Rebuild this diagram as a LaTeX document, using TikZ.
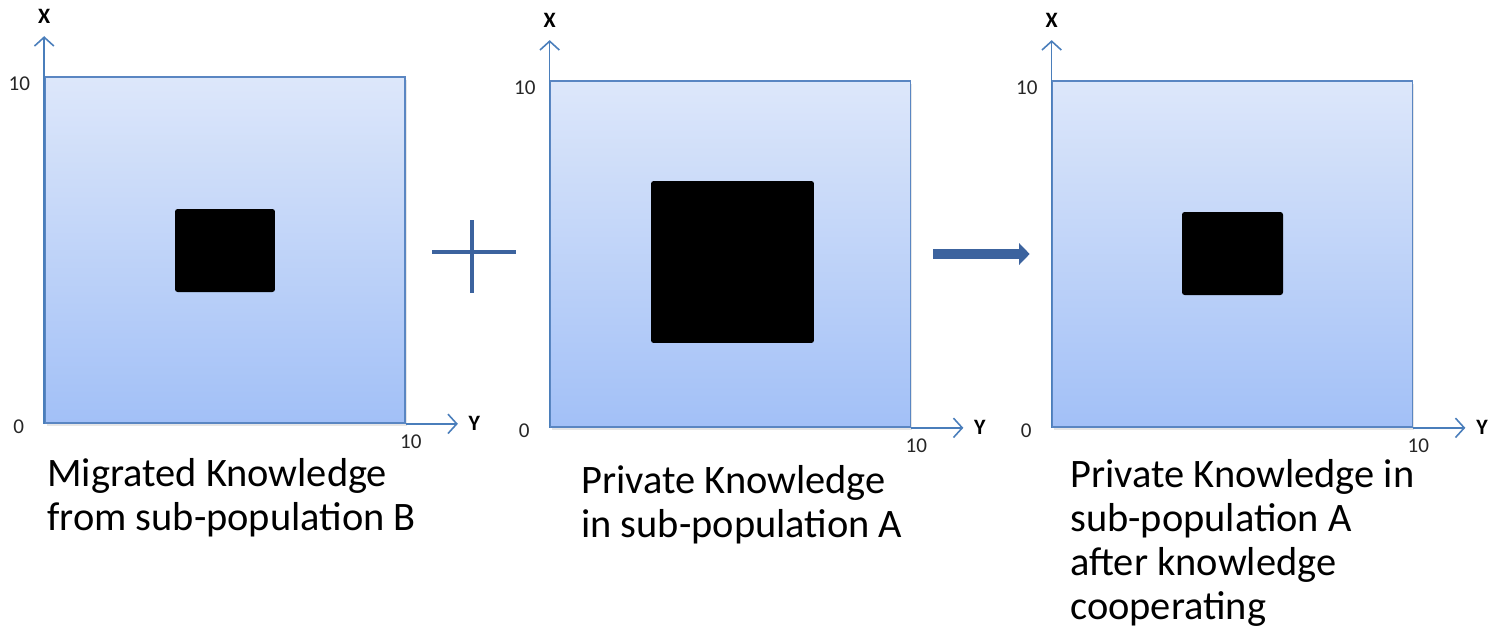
\documentclass[tikz,border=0pt]{standalone}
\usepackage{fontspec}
\setmainfont{Carlito}
\usetikzlibrary{arrows.meta,calc,positioning,shadows}
\definecolor{boxedge}{HTML}{5A86C2}
\definecolor{axiscol}{HTML}{4A7EBB}
\definecolor{boxtop}{HTML}{DDE7FA}
\definecolor{boxbot}{HTML}{A2C0F7}
\definecolor{opcol}{HTML}{3C639E}
\tikzset{
  panel/.style={draw=boxedge,line width=1pt,top color=boxtop,bottom color=boxbot,minimum width=7.2cm,minimum height=6.92cm,inner sep=0pt,drop shadow={opacity=0.2,shadow xshift=1pt,shadow yshift=-1.5pt}},
  region/.style={fill=black,rounded corners=1.5pt,inner sep=0pt},
  axis/.style={axiscol,line width=0.9pt,-{Straight Barb[length=5pt,width=11pt]}},
  axname/.style={font=\bfseries\fontsize{12.5}{14}\selectfont,inner sep=1pt},
  tick/.style={font=\fontsize{12}{14}\selectfont,text=black!85,inner sep=1pt},
  caption/.style={anchor=north west,align=left,inner sep=0pt,font=\fontsize{23}{25}\selectfont},
  op/.style={opcol,line width=2.8pt},
  flow/.style={opcol,line width=5.5pt,-{Triangle[length=6pt,width=12pt]}},
}
\begin{document}
\begin{tikzpicture}[x=0.02cm,y=-0.02cm]
  \useasboundingbox (0,0) rectangle (1498,640);
  % panels with axes
  \foreach \p/\x/\y in {pB/225/250,pA/730.5/254,pR/1232.5/254} {
    \node[panel] (\p) at (\x,\y) {};
    \coordinate (\p-xtip) at ($(\p.north west)+(0,-40)$);
    \coordinate (\p-ytip) at ($(\p.south east)+(52,0)$);
    \draw[axis] (\p.south west) -- (\p-xtip);
    \draw[axis] (\p.south east) -- (\p-ytip);
    \node[axname,above=6pt of \p-xtip] (\p-xl) {X};
    \node[axname,right=5pt of \p-ytip] (\p-yl) {Y};
    \node[tick,anchor=east] (\p-top) at ($(\p.north west)+(-12,8)$) {10};
    \node[tick,anchor=east] (\p-org) at ($(\p.south west)+(-18,3)$) {0};
    \node[tick,anchor=north] (\p-right) at ($(\p.south east)+(5,9)$) {10};
  }
  % knowledge regions
  \node[region,minimum width=2cm,minimum height=1.66cm] (sqB) at (225,250.5) {};
  \node[region,minimum width=3.26cm,minimum height=3.24cm] (sqA) at (732.5,262) {};
  \node[region,minimum width=2.02cm,minimum height=1.66cm] (sqR) at (1232.5,253.5) {};
  % plus sign
  \node[inner sep=0pt] (plus) at (473,254) {};
  \draw[op] ($(plus)+(-41,-2)$) -- ($(plus)+(43,-2)$);
  \draw[op] ($(plus)+(-1,-34)$) -- ($(plus)+(-1,39)$);
  % result arrow
  \draw[flow,shorten <=12.5pt,shorten >=12.5pt] (pA.east) -- (pR.west);
  % captions
  \node[caption] (capB) at (47,458) {Migrated Knowledge\\from sub-population B};
  \node[caption] (capA) at (581,465) {Private Knowledge\\in sub-population A};
  \node[caption] (capR) at (1070,459) {Private Knowledge in\\sub-population A\\after knowledge\\cooperating};
\end{tikzpicture}
\end{document}
